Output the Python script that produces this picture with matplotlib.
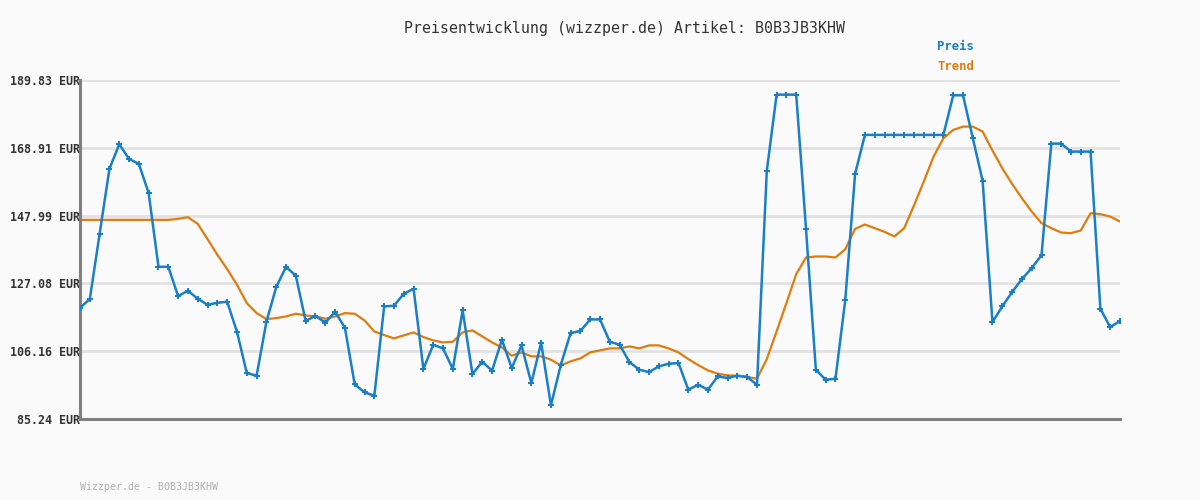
import matplotlib
matplotlib.use("Agg")
import matplotlib.pyplot as plt

# Preis values (EUR), one per sample
preis = [119.56, 122.23, 142.37, 162.41, 170.01, 165.49, 163.95, 154.90, 132.20, 132.20,
         123.15, 124.80, 122.33, 120.48, 121.10, 121.41, 112.16, 99.42, 98.60, 115.24,
         125.93, 132.20, 129.42, 115.45, 117.09, 114.93, 118.33, 113.39, 95.93, 93.46,
         92.43, 119.97, 120.18, 123.87, 125.42, 100.65, 108.15, 107.02, 100.65, 118.74,
         99.11, 102.91, 100.14, 109.69, 100.96, 107.95, 96.34, 108.77, 89.45, 101.90,
         111.75, 112.37, 115.96, 115.96, 109.08, 108.15, 102.81, 100.45, 99.73, 101.47,
         102.30, 102.50, 94.28, 95.82, 94.28, 98.39, 97.88, 98.60, 98.19, 95.82,
         161.79, 185.32, 185.32, 185.32, 143.81, 100.45, 97.36, 97.67, 122.02, 160.86,
         172.89, 172.89, 172.89, 172.89, 172.89, 172.89, 172.89, 172.89, 172.89, 185.11,
         185.11, 171.86, 158.71, 115.14, 119.97, 124.39, 128.40, 131.79, 135.79, 170.21,
         170.21, 167.75, 167.75, 167.75, 119.25, 113.60, 115.45]

# Trend values (EUR)
trend = [146.68, 146.68, 146.68, 146.68, 146.68, 146.68, 146.68, 146.68, 146.68, 146.68,
         146.99, 147.51, 145.45, 140.73, 135.90, 131.48, 126.65, 121.00, 117.91, 116.07,
         116.37, 116.89, 117.71, 117.20, 116.89, 116.17, 116.89, 117.91, 117.71, 115.65,
         112.26, 111.13, 110.11, 111.03, 111.96, 110.52, 109.49, 108.87, 109.08, 111.96,
         112.57, 110.72, 108.87, 107.33, 104.76, 105.79, 104.56, 104.56, 103.53, 101.78,
         103.02, 103.94, 105.79, 106.41, 107.02, 107.02, 107.64, 107.02, 107.95, 107.95,
         107.02, 105.79, 103.73, 101.88, 100.24, 99.21, 98.70, 98.60, 98.19, 97.67,
         103.73, 112.26, 121.00, 129.94, 135.07, 135.38, 135.38, 135.07, 137.64, 143.91,
         145.25, 144.11, 142.99, 141.55, 144.11, 151.10, 158.50, 166.21, 171.86, 174.43,
         175.45, 175.45, 173.91, 168.06, 162.61, 157.78, 153.37, 149.25, 145.66, 144.11,
         142.78, 142.57, 143.40, 148.74, 148.43, 147.71, 146.17]

y_ticks = [85.24, 106.16, 127.08, 147.99, 168.91, 189.83]
y_labels = ["%.2f EUR" % v for v in y_ticks]

BLUE = "#1a7fc9"
ORANGE = "#e07c0e"
BG = "#fafafa"
MONO = "DejaVu Sans Mono"

fig = plt.figure(figsize=(12, 5), dpi=100, facecolor=BG)
ax = fig.add_axes([80 / 1200, 81 / 500, 1040 / 1200, 339 / 500], facecolor=BG)

x = list(range(len(preis)))
ax.plot(x, trend, color=ORANGE, linewidth=1.6, zorder=2)
ax.plot(x, preis, color=BLUE, linewidth=1.8, marker="P", markersize=4,
        markeredgewidth=0, zorder=3)

ax.set_xlim(0, len(preis) - 1)
ax.set_ylim(y_ticks[0], y_ticks[-1])
ax.set_yticks(y_ticks)
ax.set_yticklabels(y_labels, fontfamily=MONO, fontsize=8.4, fontweight="bold", color="#333333")
ax.set_xticks([])
ax.tick_params(axis="y", length=0, pad=0)
ax.grid(axis="y", color="#e2e2e2", linewidth=2)
ax.set_axisbelow(True)

for side in ["top", "right"]:
    ax.spines[side].set_visible(False)
for side in ["left", "bottom"]:
    ax.spines[side].set_color("#808080")
    ax.spines[side].set_linewidth(2.2)

fig.text(624 / 1200, 1 - 28 / 500, "Preisentwicklung (wizzper.de) Artikel: B0B3JB3KHW",
         ha="center", va="center", fontfamily=MONO, fontsize=10.7, color="#333333")
fig.text(974 / 1200, 1 - 47 / 500, "Preis", ha="right", va="center",
         fontfamily=MONO, fontsize=8.8, fontweight="bold", color=BLUE)
fig.text(974 / 1200, 1 - 67 / 500, "Trend", ha="right", va="center",
         fontfamily=MONO, fontsize=8.8, fontweight="bold", color=ORANGE)
fig.text(80 / 1200, 1 - 487 / 500, "Wizzper.de - B0B3JB3KHW", ha="left", va="center",
         fontfamily=MONO, fontsize=7.2, color="#b0b0b0")

fig.savefig("out.png", dpi=100, facecolor=BG)
